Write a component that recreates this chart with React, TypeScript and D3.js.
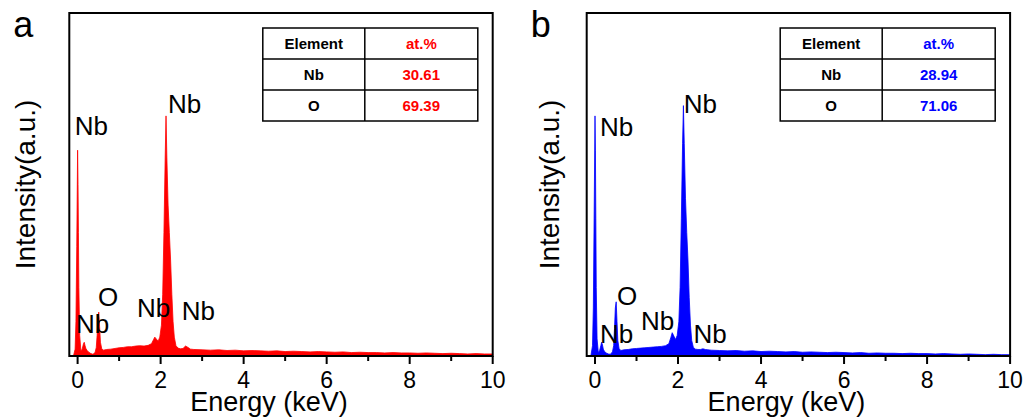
import React from 'react';
import * as d3 from 'd3';

// energy grid (keV), shared by both spectra
const energy = [
  -0.1, -0.06, -0.04, -0.02, 0, 0.01, 0.02, 0.03, 0.05, 0.08,
  0.11, 0.14, 0.16, 0.18, 0.2, 0.23, 0.27, 0.32, 0.37, 0.42,
  0.45, 0.47, 0.49, 0.51, 0.53, 0.55, 0.58, 0.62, 0.7, 0.8,
  0.9, 1.0, 1.1, 1.2, 1.3, 1.4, 1.5, 1.6, 1.7, 1.78,
  1.83, 1.86, 1.9, 1.94, 1.98, 2.02, 2.05, 2.08, 2.11, 2.13,
  2.15, 2.18, 2.21, 2.24, 2.27, 2.3, 2.33, 2.37, 2.42, 2.48,
  2.54, 2.6, 2.66, 2.72, 2.8, 3.0, 3.2, 3.4, 3.6, 3.8,
  4.0, 4.2, 4.4, 4.6, 4.8, 5.0, 5.2, 5.4, 5.6, 5.8,
  6.0, 6.2, 6.4, 6.6, 6.8, 7.0, 7.2, 7.4, 7.6, 7.8,
  8.0, 8.2, 8.4, 8.6, 8.8, 9.0, 9.2, 9.4, 9.6, 9.8, 10.0,
];

// intensity (a.u.), 100 = top of the frame
const countsA = [
  0, 2, 10, 32, 60, 50, 36, 20, 6, 1.5,
  2, 3.5, 4, 3, 2.2, 1.6, 1.1, 0.7, 0.5, 1.0,
  2.5, 6, 11, 12.8, 8.5, 4, 2.2, 1.7, 1.9, 2.0,
  2.2, 2.4, 2.5, 2.7, 2.7, 2.9, 3.0, 2.9, 3.1, 3.6,
  4.8, 5.5, 4.9, 4.3, 5.5, 9, 18, 36, 58, 70,
  58, 44, 36, 28, 18, 10, 5.5, 3, 2.3, 2.1,
  2.2, 2.9, 2.5, 2.0, 1.9, 1.8, 1.7, 1.8, 1.6, 1.7,
  1.5, 1.6, 1.5, 1.4, 1.5, 1.3, 1.4, 1.3, 1.2, 1.3,
  1.2, 1.1, 1.2, 1.0, 1.1, 1.0, 1.0, 0.9, 1.0, 0.9,
  0.9, 0.8, 0.9, 0.8, 0.7, 0.8, 0.7, 0.6, 0.7, 0.6, 0.6,
];

const countsB = [
  0, 3, 14, 42, 70, 60, 40, 20, 5, 1,
  1.5, 3, 4, 3.2, 2, 1.3, 0.9, 0.6, 0.5, 1.2,
  3, 8, 14, 15.8, 10, 4.5, 2.2, 1.6, 1.8, 1.9,
  2.1, 2.2, 2.3, 2.4, 2.5, 2.6, 2.7, 2.8, 3.0, 3.6,
  5.5, 6.8, 5.8, 4.8, 6, 10, 20, 40, 62, 73,
  62, 46, 36, 28, 17, 9, 4.5, 2.5, 2.0, 1.9,
  1.9, 2.1, 1.9, 1.8, 1.7, 1.6, 1.5, 1.6, 1.4, 1.5,
  1.3, 1.4, 1.3, 1.2, 1.3, 1.1, 1.2, 1.1, 1.0, 1.1,
  1.0, 0.9, 1.0, 0.8, 0.9, 0.8, 0.8, 0.7, 0.8, 0.7,
  0.7, 0.6, 0.7, 0.6, 0.5, 0.6, 0.5, 0.4, 0.5, 0.4, 0.4,
];

// peak labels: [energy, intensity] of the text's left baseline
const peakLabelsA = [
  { text: 'Nb', e: -0.07, v: 64.4 },
  { text: 'Nb', e: 2.18, v: 70.8 },
  { text: 'O', e: 0.49, v: 14.6 },
  { text: 'Nb', e: -0.04, v: 6.7 },
  { text: 'Nb', e: 1.43, v: 11.4 },
  { text: 'Nb', e: 2.51, v: 10.5 },
];
const peakLabelsB = [
  { text: 'Nb', e: 0.12, v: 64.1 },
  { text: 'Nb', e: 2.14, v: 70.8 },
  { text: 'O', e: 0.53, v: 14.9 },
  { text: 'Nb', e: 0.12, v: 3.8 },
  { text: 'Nb', e: 1.11, v: 7.6 },
  { text: 'Nb', e: 2.37, v: 3.8 },
];

const tableElements = ['Nb', 'O'];
const atPercentA = ['30.61', '69.39'];
const atPercentB = ['28.94', '71.06'];

const FONT = '"Liberation Sans", Arial, sans-serif';

type Label = { text: string; e: number; v: number };

const Panel = ({ left, letter, color, counts, labels, values, ylabOffset }: {
  left: number; letter: string; color: string; counts: number[];
  labels: Label[]; values: string[]; ylabOffset: number;
}) => {
  const top = 13, bottom = 356, w = 423.4;
  const x = d3.scaleLinear().domain([-0.2, 10]).range([left, left + w]);
  const y = d3.scaleLinear().domain([0, 100]).range([bottom, top]);
  const pts = energy.map((e, i) => [e, counts[i]] as [number, number]);
  const area = d3.area<[number, number]>()
    .x(d => x(d[0]))
    .y0(bottom)
    .y1(d => y(d[1]));

  const tl = left + 193.5, tw = 215, colX = tl + 102, rowH = 31, tt = 28;
  return (
    <g>
      <text x={left - 56} y={37} fontSize={36} fontFamily={FONT}>{letter}</text>
      <path d={area(pts) ?? ''} fill={color} stroke={color} strokeWidth={0.8} />
      {x.ticks(10).map(t => (
        <line key={t} x1={x(t)} x2={x(t)} y1={bottom} y2={bottom + (t % 2 === 0 ? 8 : 5)}
          stroke="#000" strokeWidth={2} />
      ))}
      {x.ticks(5).map(t => (
        <text key={t} x={x(t)} y={388} fontSize={23} textAnchor="middle" fontFamily={FONT}>{t}</text>
      ))}
      <rect x={left} y={top} width={w} height={bottom - top} fill="none" stroke="#000" strokeWidth={2} />
      {labels.map((l, i) => (
        <text key={i} x={x(l.e)} y={y(l.v)} fontSize={26} fontFamily={FONT}>{l.text}</text>
      ))}
      <text x={left + w / 2 - 12} y={411} fontSize={27} textAnchor="middle" fontFamily={FONT}>Energy (keV)</text>
      <text transform={`translate(${left - ylabOffset},${(top + bottom) / 2}) rotate(-90)`}
        fontSize={28} textAnchor="middle" fontFamily={FONT}>Intensity(a.u.)</text>
      <g fontFamily={FONT} fontSize={15} fontWeight="bold" textAnchor="middle">
        <rect x={tl} y={tt} width={tw} height={rowH * 3} fill="#fff" stroke="#000" strokeWidth={1.5} />
        {[1, 2].map(r => (
          <line key={r} x1={tl} x2={tl + tw} y1={tt + rowH * r} y2={tt + rowH * r} stroke="#000" strokeWidth={1.5} />
        ))}
        <line x1={colX} x2={colX} y1={tt} y2={tt + rowH * 3} stroke="#000" strokeWidth={1.5} />
        <text x={(tl + colX) / 2} y={tt + rowH / 2 + 5.5}>Element</text>
        <text x={(colX + tl + tw) / 2} y={tt + rowH / 2 + 5.5} fill={color}>at.%</text>
        {tableElements.map((el, i) => (
          <g key={el}>
            <text x={(tl + colX) / 2} y={tt + rowH * (i + 1.5) + 5.5}>{el}</text>
            <text x={(colX + tl + tw) / 2} y={tt + rowH * (i + 1.5) + 5.5} fill={color}>{values[i]}</text>
          </g>
        ))}
      </g>
    </g>
  );
};

export default function App() {
  return (
    <svg width={1027} height={418} style={{ position: 'absolute', left: 0, top: 0, background: '#fff' }}>
      <Panel left={69.3} letter="a" color="#ff0000" counts={countsA} labels={peakLabelsA}
        values={atPercentA} ylabOffset={34} />
      <Panel left={586.7} letter="b" color="#0000ff" counts={countsB} labels={peakLabelsB}
        values={atPercentB} ylabOffset={28} />
    </svg>
  );
}
